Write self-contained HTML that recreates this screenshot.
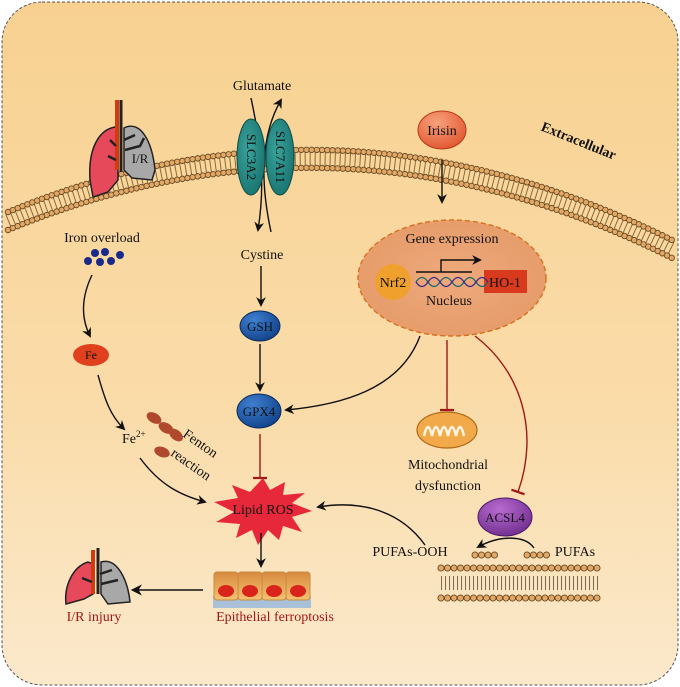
<!DOCTYPE html>
<html><head><meta charset="utf-8"><style>
html,body{margin:0;padding:0;width:680px;height:687px;overflow:hidden;background:#fff}
svg{display:block}
text{font-family:"Liberation Serif",serif;fill:#111}
</style></head><body>
<svg width="680" height="687" viewBox="0 0 680 687" xmlns="http://www.w3.org/2000/svg">
<defs>
<linearGradient id="bg" x1="0" y1="0" x2="0" y2="1"><stop offset="0" stop-color="#f8d191"/><stop offset="0.6" stop-color="#fadcaa"/><stop offset="1" stop-color="#fbe9cc"/></linearGradient>
<radialGradient id="blue" cx="0.35" cy="0.3" r="0.8"><stop offset="0" stop-color="#3f7fd0"/><stop offset="1" stop-color="#0e3f86"/></radialGradient>
<radialGradient id="teal" cx="0.4" cy="0.4" r="0.7"><stop offset="0" stop-color="#3aa39c"/><stop offset="1" stop-color="#16706c"/></radialGradient>
<radialGradient id="iris" cx="0.4" cy="0.3" r="0.8"><stop offset="0" stop-color="#f7a27c"/><stop offset="1" stop-color="#e0502a"/></radialGradient>
<radialGradient id="purp" cx="0.4" cy="0.3" r="0.8"><stop offset="0" stop-color="#b86ad0"/><stop offset="1" stop-color="#6b2a8a"/></radialGradient>
<radialGradient id="nuc" cx="0.5" cy="0.5" r="0.6"><stop offset="0" stop-color="#eea97c"/><stop offset="1" stop-color="#e59a68"/></radialGradient>
<linearGradient id="cell" x1="0" y1="0" x2="0" y2="1"><stop offset="0" stop-color="#d88a3e"/><stop offset="1" stop-color="#f4c270"/></linearGradient>
<marker id="ar" viewBox="0 0 10 10" refX="8" refY="5" markerWidth="7" markerHeight="7" orient="auto"><path d="M0,0 L10,5 L0,10 L3,5 z" fill="#111"/></marker>
<marker id="bar" viewBox="0 0 10 10" refX="5" refY="5" markerWidth="10" markerHeight="10" orient="auto"><path d="M5,0 L5,10" stroke="#a01818" stroke-width="1.6"/></marker>
</defs>
<rect x="2" y="2" width="676" height="683" rx="40" fill="url(#bg)" stroke="#555" stroke-width="1" stroke-dasharray="3 2"/>

<!-- membrane -->
<g fill="none">
<path d="M8,212 Q340,75 672,240" stroke="#8a6a3a" stroke-width="14" stroke-dasharray="1 4" transform="translate(0,9)"/>
<path d="M8,212 Q340,75 672,240" stroke="#6b4a22" stroke-width="6.4" stroke-linecap="round" stroke-dasharray="0 5.2"/>
<path d="M8,212 Q340,75 672,240" stroke="#e1a868" stroke-width="4.6" stroke-linecap="round" stroke-dasharray="0 5.2"/>
<path d="M8,230 Q340,93 672,258" stroke="#6b4a22" stroke-width="6.4" stroke-linecap="round" stroke-dasharray="0 5.2"/>
<path d="M8,230 Q340,93 672,258" stroke="#e1a868" stroke-width="4.6" stroke-linecap="round" stroke-dasharray="0 5.2"/>
</g>
<text x="577" y="145" font-size="14" font-weight="bold" transform="rotate(22 577 145)" text-anchor="middle">Extracellular</text>

<!-- lung top -->
<g stroke="#222" stroke-width="1.5">
<path d="M115,127 C98,130 88,150 90,180 L93,197 L108,192 L118,180 L118,128 z" fill="#e64a5a"/>
<path d="M124,128 C140,120 152,140 155,170 L152,180 L132,178 L124,170 z" fill="#a8a8a8"/>
</g>
<path d="M117,100 L117,170" stroke="#d43a10" stroke-width="4"/>
<path d="M121,100 L121,172" stroke="#222" stroke-width="3"/>
<path d="M124,140 L135,135 M125,150 L140,146 L144,138 M110,140 L116,146 M108,156 L116,160" stroke="#222" stroke-width="2.5" fill="none"/>
<text x="140" y="163" font-size="13" text-anchor="middle">I/R</text>

<!-- transporter -->
<path d="M251,98 C260,140 266,180 258,230" stroke="#111" stroke-width="1.4" fill="none" marker-end="url(#ar)"/>
<path d="M271,232 C262,190 258,140 281,100" stroke="#111" stroke-width="1.4" fill="none" marker-end="url(#ar)"/>
<ellipse cx="251" cy="157" rx="14" ry="38" fill="url(#teal)" stroke="#0d4a48"/>
<ellipse cx="280" cy="157" rx="14" ry="38" fill="url(#teal)" stroke="#0d4a48"/>
<text x="251" y="157" font-size="13" transform="rotate(90 251 157)" text-anchor="middle" dy="4">SLC3A2</text>
<text x="280" y="157" font-size="13" transform="rotate(90 280 157)" text-anchor="middle" dy="4">SLC7A11</text>
<text x="262" y="90" font-size="14" text-anchor="middle">Glutamate</text>
<text x="262" y="259" font-size="14" text-anchor="middle">Cystine</text>

<!-- Irisin -->
<ellipse cx="442" cy="130" rx="24" ry="19" fill="url(#iris)" stroke="#b83a1a"/>
<text x="442" y="135" font-size="14" text-anchor="middle">Irisin</text>
<path d="M442,160 L442,202" stroke="#111" stroke-width="1.4" marker-end="url(#ar)"/>

<!-- nucleus -->
<ellipse cx="452" cy="278" rx="94" ry="58" fill="url(#nuc)" stroke="#d6701f" stroke-width="1.4" stroke-dasharray="5 3"/>
<text x="452" y="243" font-size="14" text-anchor="middle">Gene expression</text>
<circle cx="393" cy="282" r="18" fill="#f0a02c"/>
<text x="393" y="287" font-size="14" text-anchor="middle">Nrf2</text>
<rect x="484" y="270" width="43" height="23" fill="#d93a1e"/>
<text x="505" y="287" font-size="14" text-anchor="middle">HO-1</text>
<path d="M416,272 L472,272 M441,272 L441,260 L480,260" stroke="#111" stroke-width="1.4" fill="none" marker-end="url(#ar)"/>
<path d="M416,282 q6,-9 12,0 t12,0 t12,0 t12,0 t12,0 t12,0" stroke="#1a6a6a" stroke-width="1.3" fill="none"/>
<path d="M416,282 q6,9 12,0 t12,0 t12,0 t12,0 t12,0 t12,0" stroke="#3a2a8a" stroke-width="1.3" fill="none"/>
<text x="449" y="305" font-size="14" text-anchor="middle">Nucleus</text>

<!-- iron -->
<text x="102" y="242" font-size="14" text-anchor="middle">Iron overload</text>
<g fill="#1a2a8a"><circle cx="95" cy="253" r="4"/><circle cx="105" cy="252" r="4"/><circle cx="88" cy="261" r="4"/><circle cx="100" cy="262" r="4"/><circle cx="111" cy="261" r="4"/><circle cx="120" cy="255" r="4"/></g>
<path d="M92,275 C80,300 82,320 90,336" stroke="#111" stroke-width="1.4" fill="none" marker-end="url(#ar)"/>
<ellipse cx="91" cy="355" rx="18" ry="11" fill="#e0401e"/>
<text x="91" y="359" font-size="12" text-anchor="middle">Fe</text>
<path d="M98,375 C105,400 110,415 124,429" stroke="#111" stroke-width="1.4" fill="none" marker-end="url(#ar)"/>
<text x="122" y="443" font-size="14">Fe<tspan font-size="9" dy="-6">2+</tspan></text>
<g fill="#b0482e"><ellipse cx="154" cy="418" rx="8" ry="5" transform="rotate(30 154 418)"/><ellipse cx="166" cy="428" rx="8" ry="5" transform="rotate(30 166 428)"/><ellipse cx="176" cy="435" rx="8" ry="5" transform="rotate(40 176 435)"/><ellipse cx="162" cy="452" rx="8" ry="5" transform="rotate(20 162 452)"/></g>
<text x="182" y="436" font-size="14" transform="rotate(35 182 436)">Fenton</text>
<text x="170" y="455" font-size="14" transform="rotate(35 170 455)">reaction</text>
<path d="M140,458 C160,485 180,495 205,502" stroke="#111" stroke-width="1.4" fill="none" marker-end="url(#ar)"/>

<!-- GSH/GPX4 -->
<path d="M261,266 L261,305" stroke="#111" stroke-width="1.4" marker-end="url(#ar)"/>
<ellipse cx="260" cy="326" rx="20" ry="15" fill="url(#blue)" stroke="#0a2a5a"/>
<text x="260" y="331" font-size="13" text-anchor="middle">GSH</text>
<path d="M260,344 L260,390" stroke="#111" stroke-width="1.4" marker-end="url(#ar)"/>
<ellipse cx="259" cy="411" rx="22" ry="17" fill="url(#blue)" stroke="#0a2a5a"/>
<text x="259" y="416" font-size="13" text-anchor="middle">GPX4</text>
<path d="M420,336 C400,390 340,405 286,410" stroke="#111" stroke-width="1.4" fill="none" marker-end="url(#ar)"/>
<path d="M260,434 L260,478" stroke="#a01818" stroke-width="1.4" marker-end="url(#bar)"/>

<!-- Lipid ROS -->
<polygon points="263,478 270,490 285,482 283,495 305,493 292,503 312,511 292,517 302,532 283,526 279,540 268,530 258,545 252,530 236,538 240,524 216,522 234,512 214,502 238,498 232,485 250,492" fill="#e6283a"/>
<text x="263" y="514" font-size="14" text-anchor="middle">Lipid ROS</text>
<path d="M261,533 L261,566" stroke="#111" stroke-width="1.4" marker-end="url(#ar)"/>

<!-- cells -->
<rect x="213" y="596" width="98" height="12" fill="#a8c0d8"/>
<g stroke="#c88a40" stroke-width="1" fill="url(#cell)">
<rect x="214" y="572" width="24" height="28" rx="3"/><rect x="238" y="572" width="24" height="28" rx="3"/><rect x="262" y="572" width="24" height="28" rx="3"/><rect x="286" y="572" width="24" height="28" rx="3"/>
</g>
<g fill="#d8241a"><ellipse cx="226" cy="591" rx="8" ry="6"/><ellipse cx="250" cy="591" rx="8" ry="6"/><ellipse cx="274" cy="591" rx="8" ry="6"/><ellipse cx="298" cy="591" rx="8" ry="6"/></g>
<text x="275" y="621" font-size="14" text-anchor="middle" style="fill:#a01818">Epithelial ferroptosis</text>
<path d="M203,590 L133,590" stroke="#111" stroke-width="1.6" marker-end="url(#ar)"/>

<!-- lung bottom -->
<g transform="translate(0,-18)">
<g stroke="#222" stroke-width="1.5">
<path d="M88,580 C72,585 64,605 66,622 L84,617 L93,612 L93,582 z" fill="#e64a5a"/>
<path d="M101,580 C118,575 128,600 130,620 L108,622 L101,612 z" fill="#a8a8a8"/>
</g>
<path d="M93,568 L93,612" stroke="#d43a10" stroke-width="4"/>
<path d="M98,566 L98,612" stroke="#222" stroke-width="3"/>
<path d="M100,592 L112,588 M101,602 L118,598 M82,596 L92,600" stroke="#222" stroke-width="2.5"/>
</g>
<text x="94" y="621" font-size="14" text-anchor="middle" style="fill:#a01818">I/R injury</text>

<!-- mito -->
<path d="M447,340 L447,410" stroke="#a01818" stroke-width="1.4" marker-end="url(#bar)"/>
<ellipse cx="447" cy="430" rx="30" ry="18" fill="#f1a94a" stroke="#b06a1a" stroke-width="1.2"/>
<path d="M424,436 q4,-18 8,0 q4,-18 8,0 q4,-18 8,0 q4,-18 8,0 q4,-18 8,0" stroke="#fff4e0" stroke-width="2.5" fill="none"/>
<text x="448" y="469" font-size="14" text-anchor="middle">Mitochondrial</text>
<text x="448" y="490" font-size="14" text-anchor="middle">dysfunction</text>

<!-- ACSL4 -->
<path d="M475,336 C520,370 540,430 518,492" stroke="#a01818" stroke-width="1.4" fill="none" marker-end="url(#bar)"/>
<ellipse cx="505" cy="517" rx="27" ry="19" fill="url(#purp)" stroke="#4a1a6a"/>
<text x="505" y="522" font-size="13" text-anchor="middle">ACSL4</text>
<path d="M534,548 C525,535 500,535 478,547" stroke="#111" stroke-width="1.4" fill="none" marker-end="url(#ar)"/>
<text x="410" y="556" font-size="14" text-anchor="middle">PUFAs-OOH</text>
<text x="575" y="556" font-size="14" text-anchor="middle">PUFAs</text>
<path d="M425,545 C400,510 360,500 318,507" stroke="#111" stroke-width="1.4" fill="none" marker-end="url(#ar)"/>
<g fill="none">
<path d="M441,575 L600,575" stroke="#7a6a5a" stroke-width="14" stroke-dasharray="1 3" transform="translate(0,8)"/>
<path d="M441,568 L600,568 M441,598 L600,598" stroke="#6b4a22" stroke-width="7" stroke-linecap="round" stroke-dasharray="0 6.5"/>
<path d="M441,568 L600,568 M441,598 L600,598" stroke="#e1a868" stroke-width="5.2" stroke-linecap="round" stroke-dasharray="0 6.5"/>
<path d="M475,555 L500,555 M527,555 L552,555" stroke="#6b4a22" stroke-width="7" stroke-linecap="round" stroke-dasharray="0 6.5"/>
<path d="M475,555 L500,555 M527,555 L552,555" stroke="#e1a868" stroke-width="5.2" stroke-linecap="round" stroke-dasharray="0 6.5"/>
</g>
</svg>
</body></html>
